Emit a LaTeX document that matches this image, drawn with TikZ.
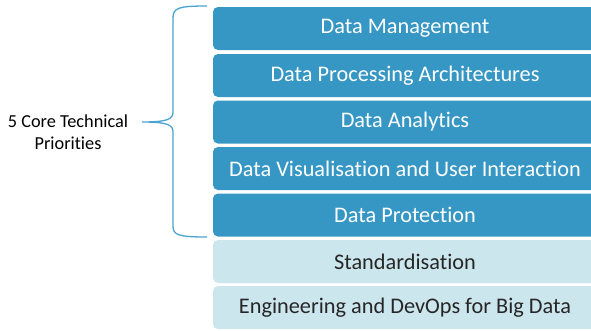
\documentclass[tikz,border=0pt]{standalone}
\usepackage{fontspec}
\setmainfont{Carlito}[Ligatures=NoCommon]
\definecolor{coreblue}{HTML}{3697C4}
\definecolor{paleblue}{HTML}{CCE6EE}
\definecolor{bracecol}{HTML}{4BA3CF}
\tikzset{
  corebox/.style={fill=coreblue, text=white, rounded corners=5pt, minimum width=384pt, minimum height=43pt, inner sep=0pt, font=\fontsize{22.3}{24}\selectfont},
  supportbox/.style={corebox, fill=paleblue, text=black!85},
}
\begin{document}
\begin{tikzpicture}
        [x=1pt,y=-1pt]
        \useasboundingbox (0,0) rectangle (591,330);

        \node[corebox] (mgmt) at (405,28.5) {Data Management};
        \node[corebox] (arch) at (405,75.5) {Data Processing Architectures};
        \node[corebox] (analytics) at (405,122) {Data Analytics};
        \node[corebox] (vis) at (405,168.5) {Data Visualisation and User Interaction};
        \node[corebox] (protect) at (405,215) {Data Protection};
        \node[supportbox] (std) at (405,261.5) {Standardisation};
        \node[supportbox] (devops) at (405,307.5) {Engineering and DevOps for Big Data};

        \node[align=center, font=\fontsize{18.3}{22}\selectfont] (core) at (68,132) {5 Core Technical\\Priorities};

        % brace
        \coordinate (tip) at (142,122);
        \draw[bracecol, line width=1.3pt]
          (207,6) .. controls (178,6) and (173,8) .. (173,18) -- (173,112)
          .. controls (173,119) and (168,122) .. (tip)
          .. controls (168,122) and (173,125) .. (173,132) -- (173,226)
          .. controls (173,235) and (178,237) .. (207,237);
      \end{tikzpicture}
\end{document}
